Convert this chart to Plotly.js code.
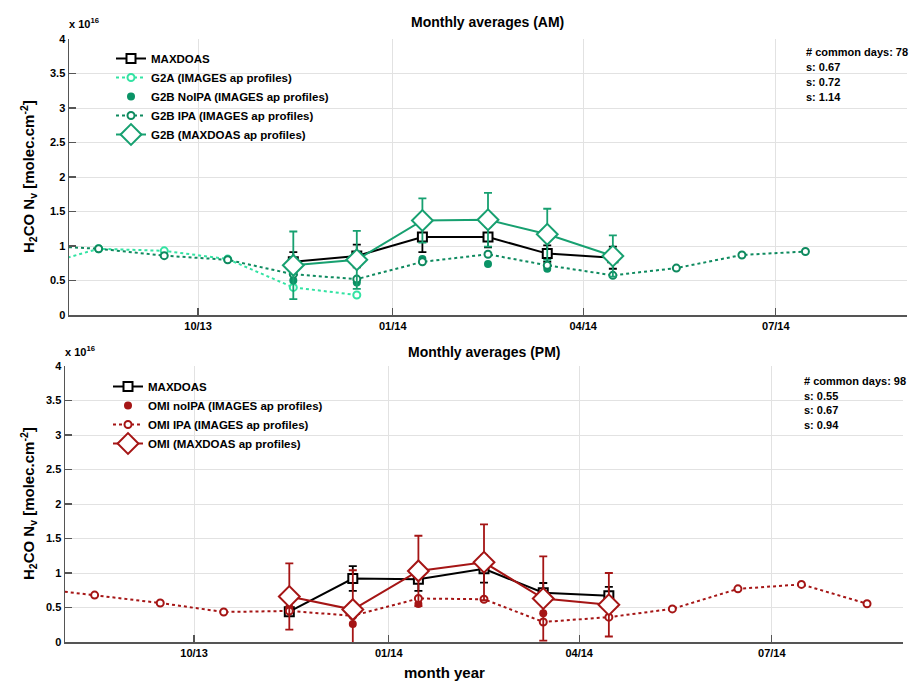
<!DOCTYPE html>
<html>
<head>
<meta charset="utf-8">
<script src="https://cdn.plot.ly/plotly-3.0.1.min.js"></script>
<style>html,body{margin:0;padding:0;background:#fff}#chart{width:909px;height:681px}</style>
</head>
<body>
<div id="chart"></div>
<script>
// ---- Data (values in units of 1e16 molec/cm2) ----
const obsMonths = ['2013-11-15','2013-12-15','2014-01-15','2014-02-15','2014-03-15','2014-04-15'];

// AM (top)
const maxdoasAM = [0.77, 0.855, 1.13, 1.13, 0.89, 0.83];
const maxdoasAMErr = [0.14, 0.165, 0.22, 0.15, 0.12, 0.16];
const g2aMonths = ['2013-07-15','2013-08-15','2013-09-15','2013-10-15','2013-11-15','2013-12-15'];
const g2aIPA = [0.69, 0.96, 0.93, 0.81, 0.40, 0.29];
const g2bNoIpaMonths = ['2013-11-15','2013-12-15','2014-01-15','2014-02-15','2014-03-15'];
const g2bNoIPA = [0.50, 0.47, 0.81, 0.74, 0.67];
const g2bIpaMonths = ['2013-07-15','2013-08-15','2013-09-15','2013-10-15','2013-11-15','2013-12-15','2014-01-15','2014-02-15','2014-03-15','2014-04-15','2014-05-15','2014-06-15','2014-07-15'];
const g2bIPA = [1.01, 0.96, 0.86, 0.80, 0.59, 0.52, 0.77, 0.88, 0.72, 0.575, 0.68, 0.87, 0.92];
const g2bMaxdoas = [0.72, 0.80, 1.37, 1.38, 1.17, 0.855];
const g2bMaxdoasErr = [0.49, 0.42, 0.32, 0.39, 0.37, 0.30];

// PM (bottom)
const maxdoasPM = [0.44, 0.92, 0.91, 1.06, 0.715, 0.67];
const maxdoasPMErr = [0.06, 0.18, 0.17, 0.20, 0.14, 0.13];
const omiNoIpaMonths = ['2013-11-15','2013-12-15','2014-01-15','2014-03-15'];
const omiNoIPA = [0.50, 0.26, 0.55, 0.415];
const omiIpaMonths = ['2013-07-15','2013-08-15','2013-09-15','2013-10-15','2013-11-15','2013-12-15','2014-01-15','2014-02-15','2014-03-15','2014-04-15','2014-05-15','2014-06-15','2014-07-15','2014-08-15'];
const omiIPA = [0.79, 0.68, 0.565, 0.435, 0.45, 0.38, 0.63, 0.62, 0.29, 0.36, 0.48, 0.77, 0.835, 0.555];
const omiMaxdoas = [0.66, 0.47, 1.03, 1.155, 0.63, 0.54];
const omiMaxdoasErr = [0.48, 0.57, 0.51, 0.55, 0.61, 0.46];

const tickDates = ['2013-10-01','2014-01-01','2014-04-01','2014-07-01'];
const tickLabels = ['10/13','01/14','04/14','07/14'];
const statsAM = ['# common days: 78','s: 0.67','s: 0.72','s: 1.14'];
const statsPM = ['# common days: 98','s: 0.55','s: 0.67','s: 0.94'];

// ---- Styles ----
const FONT = 'Arial, "Liberation Sans", sans-serif';
const W = 909, H = 681;
const px = v => v / W, py = v => 1 - v / H;
const cG2A = '#33e3a3', cG2Bdot = '#0a9366', cG2Bipa = '#0e8a5f', cG2B = '#17a070';
const cRed = '#a51515';

const traces = [
  // Top
  {x: obsMonths, y: maxdoasAM, name: 'MAXDOAS', mode: 'lines+markers', xaxis: 'x', yaxis: 'y', legend: 'legend',
   line: {color: '#000', width: 2}, marker: {symbol: 'square', size: 9, color: '#fff', line: {color: '#000', width: 2}},
   error_y: {type: 'data', array: maxdoasAMErr, color: '#000', thickness: 1.8, width: 4}},
  {x: g2aMonths, y: g2aIPA, name: 'G2A (IMAGES ap profiles)', mode: 'lines+markers', xaxis: 'x', yaxis: 'y', legend: 'legend',
   line: {color: cG2A, width: 2, dash: 'dot'}, marker: {symbol: 'circle', size: 7, color: '#fff', line: {color: cG2A, width: 2}}},
  {x: g2bNoIpaMonths, y: g2bNoIPA, name: 'G2B NoIPA (IMAGES ap profiles)', mode: 'markers', xaxis: 'x', yaxis: 'y', legend: 'legend',
   marker: {symbol: 'circle', size: 8, color: cG2Bdot}},
  {x: g2bIpaMonths, y: g2bIPA, name: 'G2B IPA (IMAGES ap profiles)', mode: 'lines+markers', xaxis: 'x', yaxis: 'y', legend: 'legend',
   line: {color: cG2Bipa, width: 2, dash: 'dot'}, marker: {symbol: 'circle', size: 7, color: '#fff', line: {color: cG2Bipa, width: 2}}},
  {x: obsMonths, y: g2bMaxdoas, name: 'G2B (MAXDOAS ap profiles)', mode: 'lines+markers', xaxis: 'x', yaxis: 'y', legend: 'legend',
   line: {color: cG2B, width: 2}, marker: {symbol: 'diamond', size: 16, color: '#fff', line: {color: cG2B, width: 2}},
   error_y: {type: 'data', array: g2bMaxdoasErr, color: cG2B, thickness: 1.8, width: 4}},
  // Bottom
  {x: obsMonths, y: maxdoasPM, name: 'MAXDOAS', mode: 'lines+markers', xaxis: 'x2', yaxis: 'y2', legend: 'legend2',
   line: {color: '#000', width: 2}, marker: {symbol: 'square', size: 9, color: '#fff', line: {color: '#000', width: 2}},
   error_y: {type: 'data', array: maxdoasPMErr, color: '#000', thickness: 1.8, width: 4}},
  {x: omiNoIpaMonths, y: omiNoIPA, name: 'OMI noIPA (IMAGES ap profiles)', mode: 'markers', xaxis: 'x2', yaxis: 'y2', legend: 'legend2',
   marker: {symbol: 'circle', size: 8, color: cRed}},
  {x: omiIpaMonths, y: omiIPA, name: 'OMI IPA (IMAGES ap profiles)', mode: 'lines+markers', xaxis: 'x2', yaxis: 'y2', legend: 'legend2',
   line: {color: cRed, width: 2, dash: 'dot'}, marker: {symbol: 'circle', size: 7, color: '#fff', line: {color: cRed, width: 2}}},
  {x: obsMonths, y: omiMaxdoas, name: 'OMI (MAXDOAS ap profiles)', mode: 'lines+markers', xaxis: 'x2', yaxis: 'y2', legend: 'legend2',
   line: {color: cRed, width: 2}, marker: {symbol: 'diamond', size: 16, color: '#fff', line: {color: cRed, width: 2}},
   error_y: {type: 'data', array: omiMaxdoasErr, color: cRed, thickness: 1.8, width: 4}}
];

const tickFont = {family: FONT, size: 11, color: '#000', weight: 'bold'};
function xax(d0, d1, anchor) {
  return {type: 'date', range: ['2013-08-01', '2014-09-01'], domain: [px(d0), px(d1)], anchor: anchor,
    tickmode: 'array', tickvals: tickDates, ticktext: tickLabels, tickfont: tickFont,
    ticks: 'inside', ticklen: 7, tickcolor: '#555', tickwidth: 1.2,
    showgrid: true, gridcolor: '#e2e2e2', gridwidth: 1, zeroline: false,
    showline: true, linecolor: '#555', linewidth: 1.5, fixedrange: true};
}
function yax(top, bottom, anchor) {
  return {range: [0, 4], dtick: 0.5, domain: [py(bottom), py(top)], anchor: anchor, tickfont: tickFont,
    ticks: 'inside', ticklen: 7, tickcolor: '#555', tickwidth: 1.2,
    showgrid: true, gridcolor: '#e2e2e2', gridwidth: 1, zeroline: false,
    showline: true, linecolor: '#555', linewidth: 1.5, fixedrange: true};
}

const ann = [];
function addText(text, x, y, size, opts) {
  ann.push(Object.assign({text: text, x: px(x), y: py(y), xref: 'paper', yref: 'paper', showarrow: false,
    font: {family: FONT, size: size, color: '#000', weight: 'bold'}, xanchor: 'center', yanchor: 'middle'}, opts || {}));
}
addText('Monthly averages (AM)', 487, 22, 14);
addText('Monthly averages (PM)', 484, 352, 14);
addText('month year', 444, 672, 15);
const yTitle = 'H<sub>2</sub>CO N<sub>v</sub> [molec.cm<sup>-2</sup>]';
addText(yTitle, 28, 177, 15, {textangle: -90});
addText(yTitle, 28, 504, 15, {textangle: -90});
addText('x 10<sup>16</sup>', 67, 23, 11, {xanchor: 'left'});
addText('x 10<sup>16</sup>', 63, 351, 11, {xanchor: 'left'});
statsAM.forEach((t, i) => addText(t, 804, 52 + i * 15, 11, {xanchor: 'left'}));
statsPM.forEach((t, i) => addText(t, 802, 381 + i * 14.5, 11, {xanchor: 'left'}));

const legFont = {family: FONT, size: 11.5, color: '#000', weight: 'bold'};
const layout = {
  width: W, height: H, margin: {l: 0, r: 0, t: 0, b: 0},
  paper_bgcolor: '#fff', plot_bgcolor: '#fff',
  xaxis: xax(69, 907, 'y'), yaxis: yax(39, 315, 'x'),
  xaxis2: xax(65, 903, 'y2'), yaxis2: yax(366, 642, 'x2'),
  legend: {x: px(111), y: py(44), xanchor: 'left', yanchor: 'top', bgcolor: 'rgba(0,0,0,0)', font: legFont, itemwidth: 30},
  legend2: {x: px(108), y: py(372), xanchor: 'left', yanchor: 'top', bgcolor: 'rgba(0,0,0,0)', font: legFont, itemwidth: 30},
  annotations: ann,
  showlegend: true
};

Plotly.newPlot('chart', traces, layout, {displayModeBar: false, staticPlot: true});
</script>
</body>
</html>
